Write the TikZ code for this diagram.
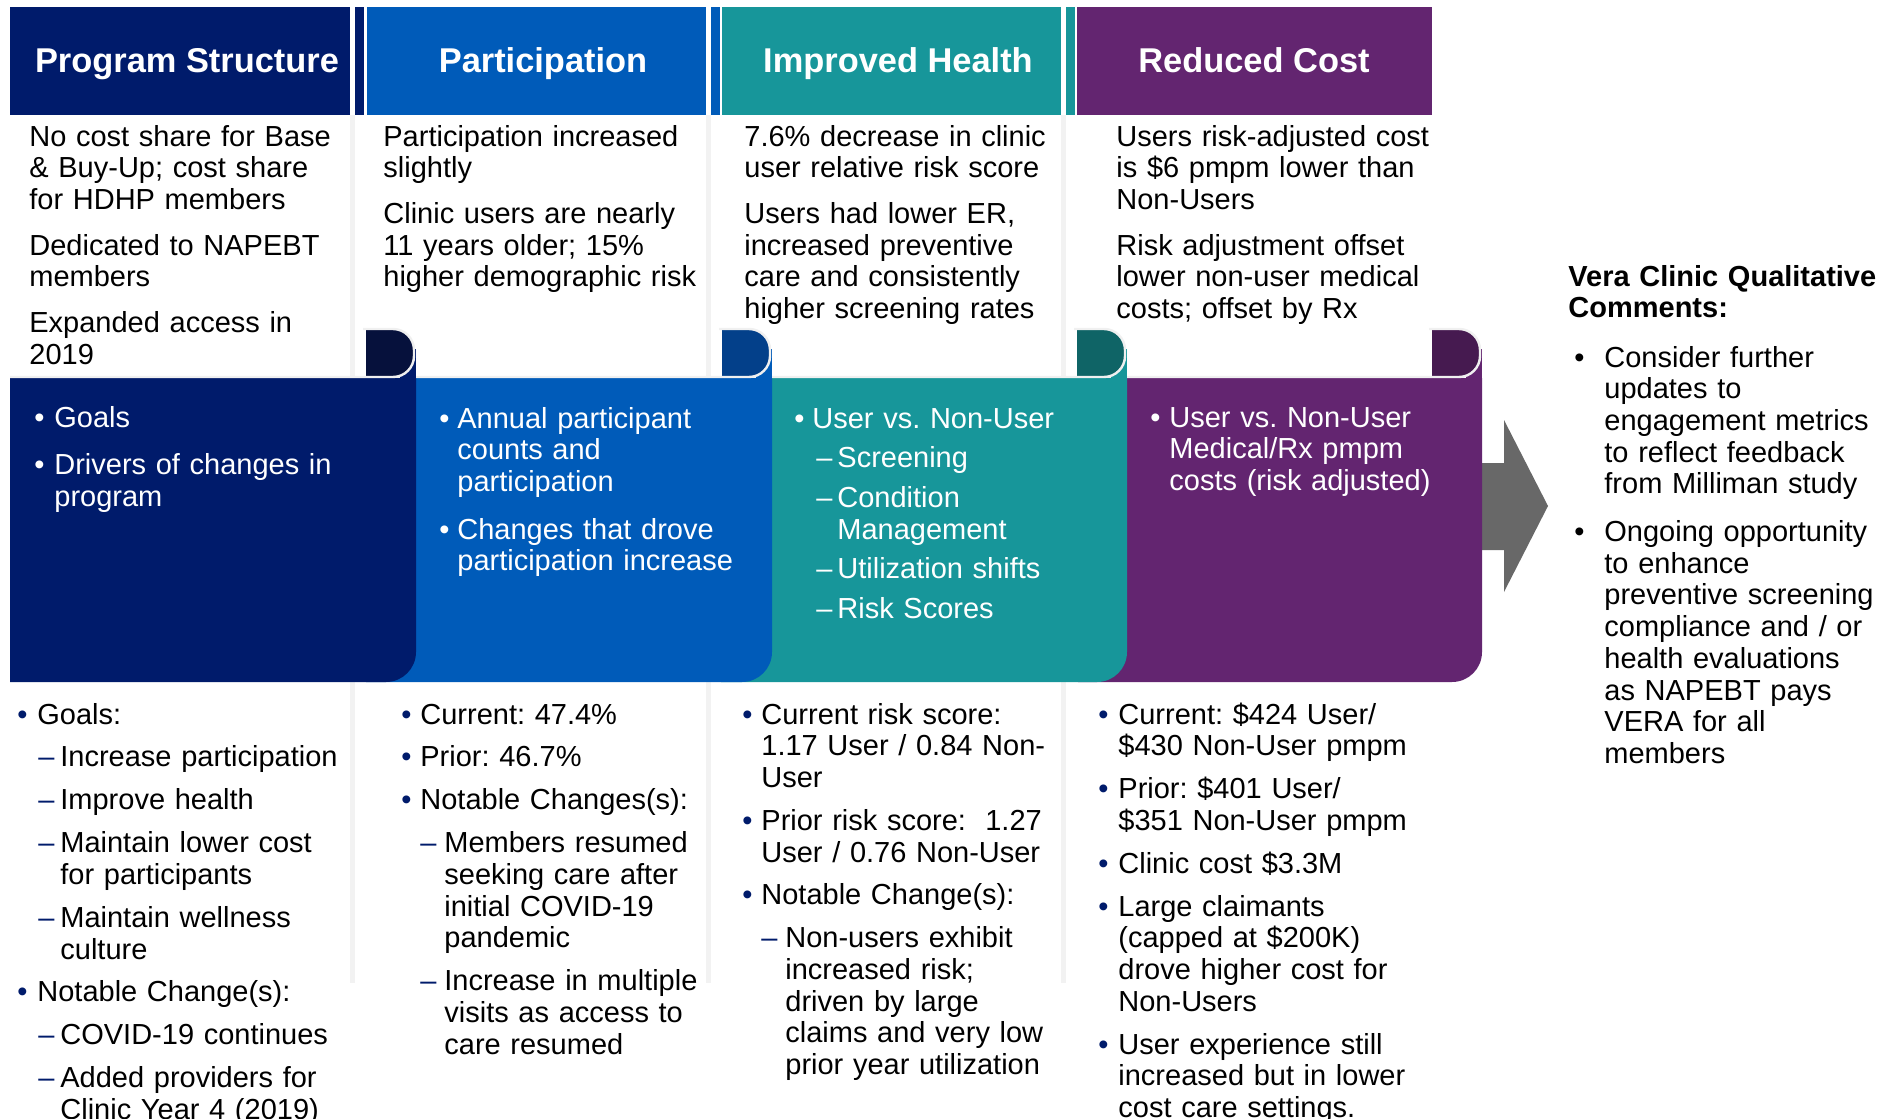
\documentclass[tikz,border=0pt]{standalone}
\usepackage{fontspec}
\setmainfont{Liberation Sans}
\usepackage{xcolor}
\usetikzlibrary{positioning}
\definecolor{pnavy}{RGB}{0,27,107}
\definecolor{pblue}{RGB}{0,91,185}
\definecolor{pteal}{RGB}{23,150,154}
\definecolor{ppurple}{RGB}{99,37,112}
\definecolor{dnavy}{RGB}{6,17,60}
\definecolor{dblue}{RGB}{3,64,138}
\definecolor{dteal}{RGB}{15,100,102}
\definecolor{dpurple}{RGB}{70,26,80}
\definecolor{arrowgray}{RGB}{104,104,104}
\definecolor{sepgray}{RGB}{242,242,242}
\newcommand\mkcolor{.}
\newcommand\itm[2][10pt]{\hangindent=#1\relax\hangafter=1\noindent
  \hbox to #1{\color{\mkcolor}\textbullet\hss}#2\par}
\newcommand\sub[2][10.5pt]{\hangindent=21.5pt\hangafter=1\noindent
  \hskip#1\hbox to \dimexpr21.5pt-#1\relax{\color{\mkcolor}--\hss}#2\par}
\tikzset{
  hdr/.style={anchor=base, inner sep=0pt, text=white,
    font=\fontsize{17.2}{20}\selectfont\bfseries},
  txt/.style={anchor=base west, inner sep=0pt, text width=200pt, align=left,
    font=\fontsize{14.5}{15.85}\selectfont\frenchspacing},
  note/.style={txt, execute at begin node={\setlength\parskip{7pt}}},
  band/.style={txt, text=white, execute at begin node={\setlength\parskip{#1}}},
  band/.default=8pt,
  detail/.style={txt,
    execute at begin node={\setlength\parskip{5.6pt}\def\mkcolor{pnavy}}},
  rim/.style={draw=black!6, line width=1.2pt},
  sep/.style={fill=sepgray},
}
\begin{document}
\begin{tikzpicture}[x=0.5pt, y=-0.5pt]
  \useasboundingbox (0,0) rectangle (1881,1119);
  \fill[white] (0,0) rectangle (1881,1119);

  % column headers, each with its narrow side strip
  \foreach \L/\R/\c in {10/350/pnavy, 367/706/pblue, 722/1061/pteal} {
    \fill[\c] (\L,7) rectangle (\R,115);
    \fill[\c] (\R+5,7) rectangle (\R+14,115);
  }
  \fill[ppurple] (1077,7) rectangle (1432,115);
  \node[hdr] (hd1) at (187,72) {Program Structure};
  \node[hdr] (hd2) at (543,72) {Participation};
  \node[hdr] (hd3) at (898,72) {Improved Health};
  \node[hdr] (hd4) at (1254,72) {Reduced Cost};

  % faint column rules
  \foreach \x in {350,706,1061} {
    \fill[sep] (\x,115) rectangle (\x+5,379);
    \fill[sep] (\x,682) rectangle (\x+5,983);
  }

  \fill[arrowgray] (1470,463) -- (1504,463) -- (1504,420) -- (1548,506)
    -- (1504,592) -- (1504,550) -- (1470,550) -- cycle;

  % curled band segments, last one first
  \foreach \L/\R/\c/\d in {1078/1482/ppurple/dpurple, 721/1127/pteal/dteal,
      366/772/pblue/dblue, 10/416/pnavy/dnavy} {
    \pgfmathsetmacro\a{\R-50}
    \pgfmathsetmacro\b{\R-2}
    \fill[\c] (\L,378) -- (\R,378) -- (\R,652)
      .. controls (\R,668.6) and (\R-13.4,682) .. (\R-30,682) -- (\L,682) -- cycle;
    \fill[\c] (\R-16,349) rectangle (\R,379);
    \fill[\d] (\a,329) -- (\b-21,329) .. controls (\b-9.4,329) and (\b,338.4) .. (\b,350)
      -- (\b,356) .. controls (\b,367.6) and (\b-9.4,377) .. (\b-21,377) -- (\a,377) -- cycle;
    \draw[rim] (\L,377) -- (\b-21,377) .. controls (\b-9.4,377) and (\b,367.6) .. (\b,356)
      -- (\b,350) .. controls (\b,338.4) and (\b-9.4,329) .. (\b-21,329) -- (\a-3,329);
  }

  \node[note] (note1) at (29,146) {No cost share for Base\newline
    \& Buy-Up; cost share\newline for HDHP members\par
    Dedicated to NAPEBT\newline members\par
    Expanded access in\newline 2019};
  \node[note] (note2) at (383,146) {Participation increased\newline slightly\par
    Clinic users are nearly\newline 11 years older; 15\%\newline
    higher demographic risk};
  \node[note] (note3) at (744,146) {7.6\% decrease in clinic\newline
    user relative risk score\par
    Users had lower ER,\newline increased preventive\newline
    care and consistently\newline higher screening rates};
  \node[note] (note4) at (1116,146) {Users risk-adjusted cost\newline
    is \$6 pmpm lower than\newline Non-Users\par
    Risk adjustment offset\newline lower non-user medical\newline
    costs; offset by Rx};

  \node[band] (band1) at (34,427) {\itm{Goals}
    \itm{Drivers of changes in\newline program}};
  \node[band] (band2) at (439,428) {\itm[9pt]{Annual participant\newline
    counts and\newline participation}
    \itm[9pt]{Changes that drove\newline participation increase}};
  \node[band=4pt] (band3) at (794,428) {\itm[9pt]{User vs. Non-User}
    \sub[11pt]{Screening}
    \sub[11pt]{Condition\newline Management}
    \sub[11pt]{Utilization shifts}
    \sub[11pt]{Risk Scores}};
  \node[band] (band4) at (1150,427) {\itm[9.5pt]{User vs. Non-User\newline
    Medical/Rx pmpm\newline costs (risk adjusted)}};

  \node[txt, font=\fontsize{14.5}{15.5}\selectfont\bfseries] (cmt) at (1568,286)
    {Vera Clinic Qualitative\newline Comments:};
  \node[txt, execute at begin node={\setlength\parskip{8pt}}] (cmtlist) at (1574,367)
    {\itm[15pt]{Consider further\newline updates to\newline engagement metrics\newline
      to reflect feedback\newline from Milliman study}
     \itm[15pt]{Ongoing opportunity\newline to enhance\newline preventive screening\newline
      compliance and / or\newline health evaluations\newline as NAPEBT pays\newline
      VERA for all\newline members}};

  \node[detail] (det1) at (17,724) {\itm{Goals:}
    \sub{Increase participation}
    \sub{Improve health}
    \sub{Maintain lower cost\newline for participants}
    \sub{Maintain wellness\newline culture}
    \itm{Notable Change(s):}
    \sub{COVID-19 continues}
    \sub{Added providers for\newline Clinic Year 4 (2019)}};
  \node[detail] (det2) at (401,724) {\itm[9.5pt]{Current: 47.4\%}
    \itm[9.5pt]{Prior: 46.7\%}
    \itm[9.5pt]{Notable Changes(s):}
    \sub[9.5pt]{Members resumed\newline seeking care after\newline
      initial COVID-19\newline pandemic}
    \sub[9.5pt]{Increase in multiple\newline visits as access to\newline care resumed}};
  \node[detail] (det3) at (742,724) {\itm[9.5pt]{Current risk score:\newline
      1.17 User / 0.84 Non-\newline User}
    \itm[9.5pt]{Prior risk score: \ 1.27\newline User / 0.76 Non-User}
    \itm[9.5pt]{Notable Change(s):}
    \sub[9.5pt]{Non-users exhibit\newline increased risk;\newline driven by large\newline
      claims and very low\newline prior year utilization}};
  \node[detail] (det4) at (1098,724) {\itm{Current: \$424 User/\newline
      \$430 Non-User pmpm}
    \itm{Prior: \$401 User/\newline \$351 Non-User pmpm}
    \itm{Clinic cost \$3.3M}
    \itm{Large claimants\newline (capped at \$200K)\newline drove higher cost for\newline
      Non-Users}
    \itm{User experience still\newline increased but in lower\newline cost care settings.}};
\end{tikzpicture}
\end{document}
